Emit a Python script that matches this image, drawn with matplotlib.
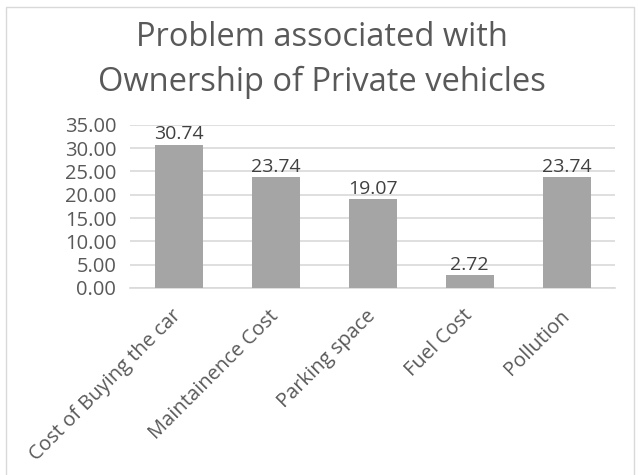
import numpy as np
import matplotlib.pyplot as plt
import matplotlib as mpl
from matplotlib.patches import Rectangle
from matplotlib.transforms import ScaledTranslation

mpl.rcParams['font.family'] = ['Open Sans', 'DejaVu Sans']

# 車所有の問題点データ
categories = ['Cost of Buying the car', 'Maintainence Cost', 'Parking space',
              'Fuel Cost', 'Pollution']
values = [30.74, 23.74, 19.07, 2.72, 23.74]
yticks = [0, 5, 10, 15, 20, 25, 30, 35]

txt = '#595959'

fig = plt.figure(figsize=(6.38, 4.75), dpi=100)
ax = fig.add_axes([0.204, 0.394, 0.760, 0.343])

x = np.arange(len(categories))
bars = ax.bar(x, values, width=0.495, color='#a5a5a5', zorder=3)
for b, v in zip(bars, values):
    ax.text(b.get_x() + b.get_width() / 2, v + 0.3, '%.2f' % v,
            ha='center', va='bottom', fontsize=14, color='#404040')

ax.set_xlim(-0.5, len(categories) - 0.5)
ax.set_ylim(0, 35)
ax.set_yticks(yticks)
ax.set_yticklabels(['%.2f' % t for t in yticks], fontsize=14.5, color=txt)
ax.yaxis.grid(True, color='#d9d9d9', linewidth=1.2, zorder=0)
ax.set_xticks(x)
ax.set_xticklabels(categories, rotation=45, ha='right', va='center',
                   rotation_mode='anchor', fontsize=14.5, color=txt)
# ラベルを少し右へずらす
off = ScaledTranslation(3 / 100, 0, fig.dpi_scale_trans)
for lab in ax.get_xticklabels():
    lab.set_transform(lab.get_transform() + off)
ax.tick_params(axis='both', length=0)
ax.tick_params(axis='y', pad=10)
ax.tick_params(axis='x', pad=18)
for s in ['top', 'right', 'left']:
    ax.spines[s].set_visible(False)
ax.spines['bottom'].set_color('#d9d9d9')
ax.spines['bottom'].set_linewidth(1.2)

fig.text(0.505, 0.921, 'Problem associated with', ha='center', va='center',
         fontsize=23.5, color=txt)
fig.text(0.505, 0.826, 'Ownership of Private vehicles', ha='center', va='center',
         fontsize=23.5, color=txt)

# 外枠
fig.patches.append(Rectangle((0.0095, -0.01), 0.985, 0.995, transform=fig.transFigure,
                             fill=False, edgecolor='#d9d9d9', linewidth=1))

fig.savefig('out.png', dpi=100)
